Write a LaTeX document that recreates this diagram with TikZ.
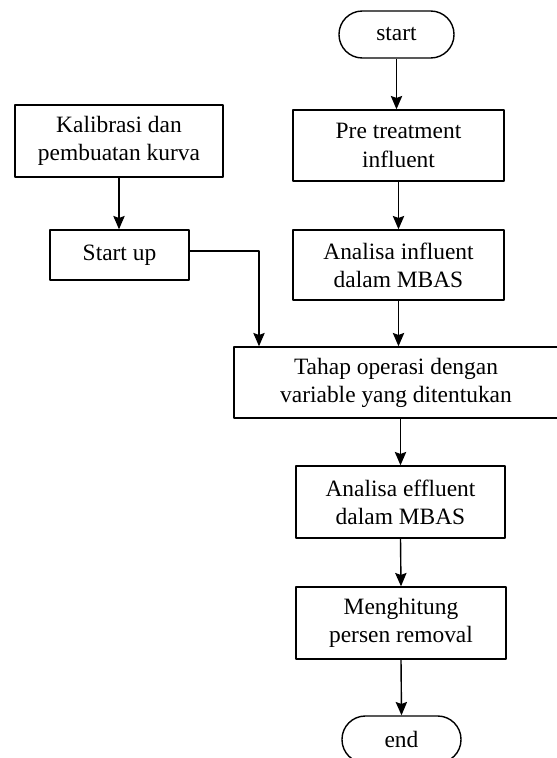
\documentclass[tikz,border=0pt]{standalone}
\usepackage{fontspec}
\setmainfont{Liberation Serif}
\usetikzlibrary{arrows.meta}
\begin{document}
\begin{tikzpicture}[x=0.03cm, y=-0.03cm, font=\fontsize{20}{24}\selectfont, line join=round, >={Stealth[length=4mm, width=3.4mm, inset=0.6mm]},
	box/.style={draw, line width=1.2pt, align=center, inner sep=0pt},
	term/.style={box, rounded corners=0.7cm},
	flow/.style={line width=1.2pt, ->}]
	\useasboundingbox (0,0) rectangle (556,758);
	\path
	(396.5,34.5) node[term, minimum width=3.45cm, minimum height=1.41cm] (start) {start}
	(398.5,145.5) node[box, minimum width=6.33cm, minimum height=2.13cm] (pre) {Pre treatment\\influent}
	(119,141) node[box, minimum width=6.24cm, minimum height=2.16cm] (kal) {Kalibrasi dan\\pembuatan kurva}
	(119.5,255) node[box, minimum width=4.17cm, minimum height=1.5cm] (startup) {Start up}
	(398.5,265) node[box, minimum width=6.33cm, minimum height=2.1cm] (ainf) {Analisa influent\\dalam MBAS}
	(396,382.5) node[box, minimum width=9.72cm, minimum height=2.13cm] (tahap) {Tahap operasi dengan\\variable yang ditentukan}
	(400.5,502) node[box, minimum width=6.27cm, minimum height=2.16cm] (aeff) {Analisa effluent\\dalam MBAS}
	(401,623) node[box, minimum width=6.3cm, minimum height=2.16cm] (meng) {Menghitung\\persen removal}
	(401.5,739.5) node[term, minimum width=3.57cm, minimum height=1.41cm] (end) {end}
	(259,251) coordinate (bend);
	\draw[flow] (start.south) -- (start.south |- pre.north);
	\draw[flow] (kal.south) -- (kal.south |- startup.north);
	\draw[flow] (pre.south) -- (ainf.north);
	\draw[flow] (ainf.south) -- (ainf.south |- tahap.north);
	\draw[flow] (startup.east |- bend) -- (bend) -- (bend |- tahap.north);
	\draw[flow] (aeff.north |- tahap.south) -- (aeff.north);
	\draw[flow] (aeff.south) -- (meng.north);
	\draw[flow] (meng.south) -- (end.north);
\end{tikzpicture}
\end{document}
